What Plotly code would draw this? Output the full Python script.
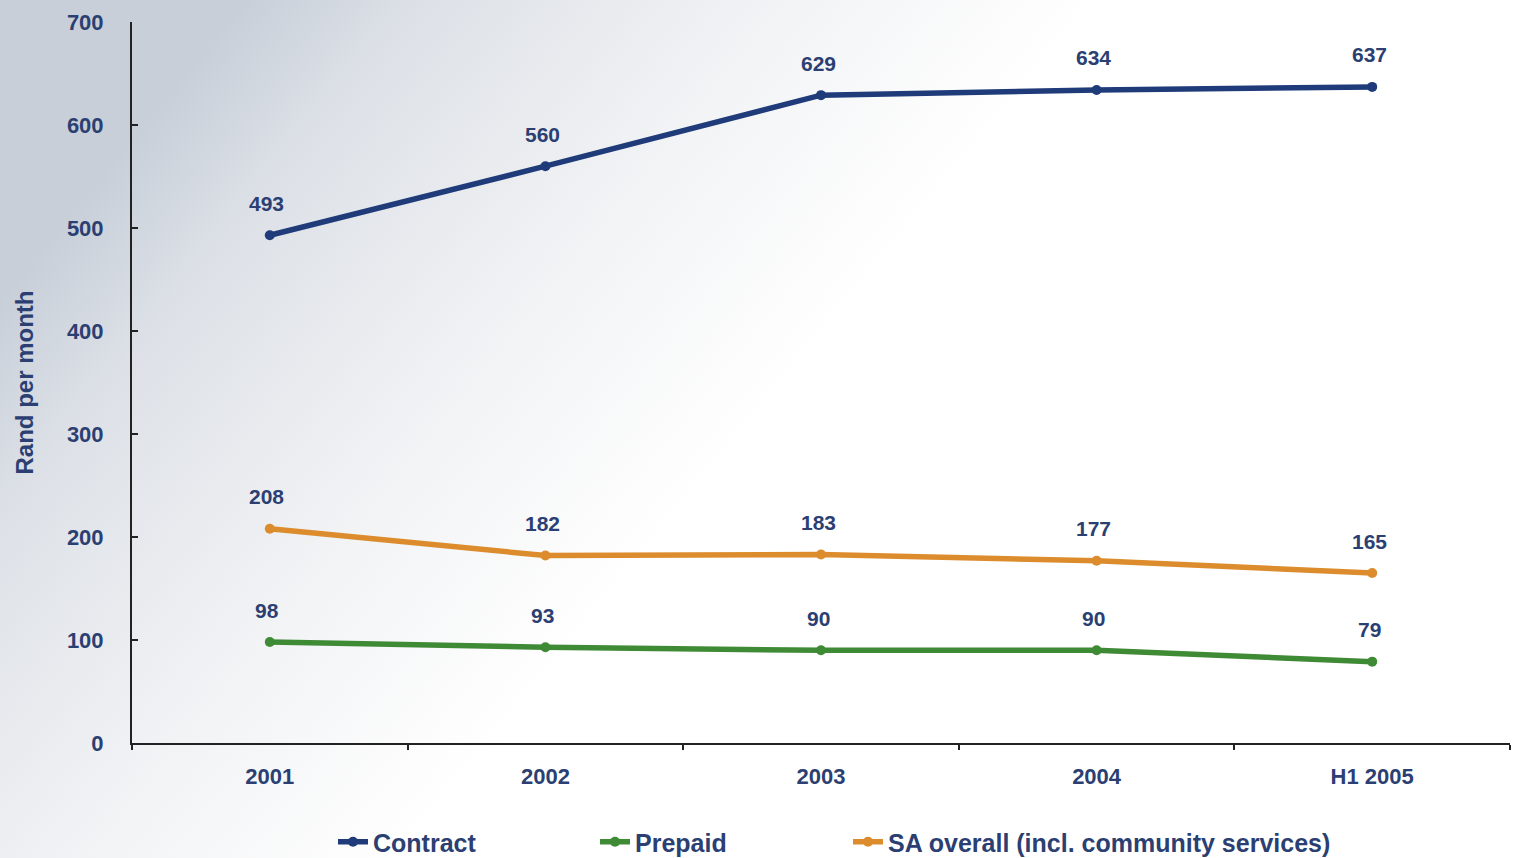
import base64
import plotly.graph_objects as go

# Average revenue per user, rand per month
periods = ["2001", "2002", "2003", "2004", "H1 2005"]
contract = [493, 560, 629, 634, 637]
prepaid = [98, 93, 90, 90, 79]
sa_overall = [208, 182, 183, 177, 165]

series = [
    ("Contract", contract, "#1f3b7a"),
    ("Prepaid", prepaid, "#3f8a35"),
    ("SA overall (incl. community services)", sa_overall, "#dc8c2c"),
]
# left edge (px) of each legend entry along the bottom row
legend_left = [333, 595, 848]

TEXT = "#2b3f72"
FONT = "Liberation Sans, Arial"
W, H = 1514, 858
L, R, T, B = 132, 4, 22, 115
PW, PH = W - L - R, H - T - B
LEGEND_MID = 842

fig = go.Figure()
legend_cfg = {}
for k, (name, vals, col) in enumerate(series):
    lg = "legend" if k == 0 else f"legend{k + 1}"
    fig.add_trace(go.Scatter(
        x=periods, y=vals, name=name, mode="lines+markers",
        line=dict(color=col, width=5.5),
        marker=dict(color=col, size=10),
        legend=lg,
    ))
    legend_cfg[lg] = dict(
        orientation="h", x=(legend_left[k] - L) / PW, xanchor="left",
        y=-(LEGEND_MID - (H - B)) / PH, yanchor="middle",
        font=dict(family=FONT, size=25, color=TEXT, weight="bold"),
        bgcolor="rgba(0,0,0,0)",
    )
    # value labels above each point (category index keeps "2001" from being read as a number)
    for i, v in enumerate(vals):
        fig.add_annotation(
            x=i, y=v, text=str(v), showarrow=False, yshift=32, xshift=-3,
            font=dict(family=FONT, size=21, color=TEXT, weight="bold"),
        )

# soft grey-blue wash behind the chart
svg = f"""<svg xmlns='http://www.w3.org/2000/svg' width='{W}' height='{H}'>
<defs><linearGradient id='g' x1='0' y1='0.35' x2='0.65' y2='0.65'>
<stop offset='0' stop-color='#c8cfd9'/>
<stop offset='0.15' stop-color='#dde1e7'/>
<stop offset='0.45' stop-color='#f2f3f5'/>
<stop offset='0.72' stop-color='#ffffff'/>
</linearGradient></defs>
<rect width='{W}' height='{H}' fill='url(#g)'/></svg>"""
bg = "data:image/svg+xml;base64," + base64.b64encode(svg.encode()).decode()
fig.add_layout_image(
    source=bg, xref="paper", yref="paper",
    x=-L / PW, y=1 + T / PH, sizex=W / PW, sizey=H / PH,
    xanchor="left", yanchor="top", sizing="stretch", layer="below",
)

tick_font = dict(family=FONT, size=22, color=TEXT, weight="bold")
fig.update_layout(
    width=W, height=H,
    margin=dict(l=L, r=R, t=T, b=B, autoexpand=False),
    paper_bgcolor="white", plot_bgcolor="rgba(0,0,0,0)",
    showlegend=True,
    xaxis=dict(
        type="category", range=[-0.5, 4.5], tickson="boundaries",
        showline=True, linecolor="#222222", linewidth=2,
        ticks="outside", ticklen=5, tickcolor="#222222", tickwidth=2,
        showgrid=False, zeroline=False, tickfont=tick_font, ticklabelstandoff=13,
    ),
    yaxis=dict(
        range=[0, 700], dtick=100, showline=True, linecolor="#222222", linewidth=2,
        ticks="inside", ticklen=6, tickcolor="#222222", tickwidth=2,
        showgrid=False, zeroline=False, tickfont=tick_font, ticklabelstandoff=22,
        title=dict(text="Rand per month", standoff=26,
                   font=dict(family=FONT, size=24, color=TEXT, weight="bold")),
    ),
    **legend_cfg,
)

fig.write_html("out.html")
